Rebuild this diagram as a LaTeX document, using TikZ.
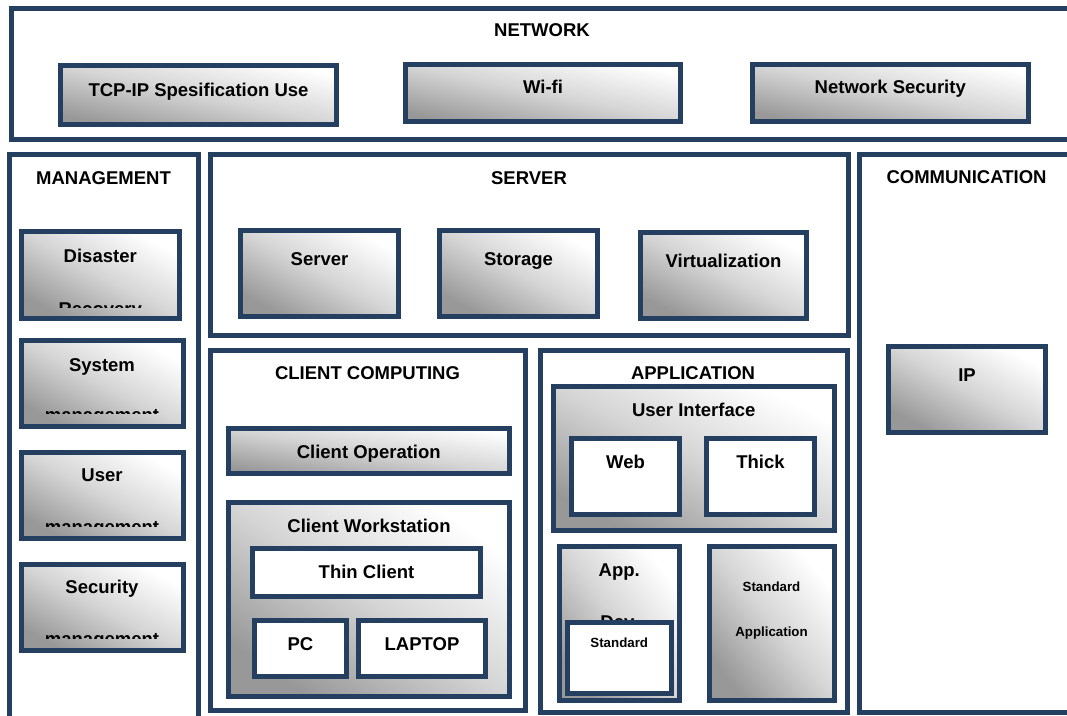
\documentclass[tikz,border=0pt]{standalone}
\usepackage{fontspec}
\setmainfont{Liberation Sans}
\definecolor{navy}{RGB}{37,63,96}
\definecolor{shadedark}{RGB}{152,152,152}
\definecolor{shademid}{RGB}{213,213,213}
\tikzset{
  frame/.style={draw=navy, line width=5pt, fill=white, inner sep=0pt, outer sep=0pt},
  % grey-to-white gradient running from the lower left corner to the upper right one
  tile/.style={frame, bottom color=shadedark, top color=white, middle color=shademid,
    shading angle=\tileangle},
  lbl/.style={anchor=base, inner sep=0pt, font=\fontsize{18.5}{20}\selectfont\bfseries},
  small/.style={anchor=base, inner sep=0pt, font=\fontsize{13.3}{15}\selectfont\bfseries},
}
% \panel[style]{name}{x1}{y1}{x2}{y2}: a box given by the centre line of its border
\newcommand\panel[6][frame]{%
  \pgfmathsetmacro\tileangle{-atan2((#6-#4),(#5-#3))}%
  \node[#1, minimum width={#5-#3}, minimum height={#6-#4}] (#2) at ({(#3+#5)/2},{(#4+#6)/2}) {};}
\begin{document}
\begin{tikzpicture}[x=1pt,y=-1pt]
\useasboundingbox (0,0) rectangle (1067,715);

% ---------- NETWORK ----------
\panel{network}{11.5}{8.5}{1078}{139.5}
\node[lbl] (networkT) at (542,36.6) {NETWORK};
\panel[tile]{tcp}{60.5}{65.5}{336.5}{124.5}
\node[lbl] (tcpT) at (tcp.center |- 0,96) {TCP-IP Spesification Use};
\panel[tile]{wifi}{405.5}{64.5}{680.5}{121.5}
\node[lbl] (wifiT) at (wifi.center |- 0,93.6) {Wi-fi};
\panel[tile]{netsec}{752.5}{64.5}{1028}{121.5}
\node[lbl] (netsecT) at (netsec.center |- 0,93.6) {Network Security};

% ---------- MANAGEMENT ----------
\panel{mgmt}{9.5}{154.5}{198.5}{730}
\node[lbl] (mgmtT) at (103.5,184.6) {MANAGEMENT};

\panel[tile]{disaster}{21.5}{231.5}{179}{318.5}
\node[lbl] (disasterA) at (disaster.center |- 0,262) {Disaster};
\begin{scope}
  \clip (21,230) rectangle (183,307);
  \node[lbl] (disasterB) at (disaster.center |- 0,315) {Recovery};
\end{scope}

\panel[tile]{system}{21}{340}{183}{426.5}
\node[lbl] (systemA) at (system.center |- 0,371) {System};
\begin{scope}
  \clip (21,338) rectangle (183,413);
  \node[lbl] (systemB) at (system.center |- 0,421) {management};
\end{scope}

\panel[tile]{user}{21}{452}{183}{538.5}
\node[lbl] (userA) at (user.center |- 0,481) {User};
\begin{scope}
  \clip (21,450) rectangle (183,526);
  \node[lbl] (userB) at (user.center |- 0,533) {management};
\end{scope}

\panel[tile]{security}{21}{564.5}{183}{650.5}
\node[lbl] (securityA) at (security.center |- 0,593) {Security};
\begin{scope}
  \clip (21,562) rectangle (183,638);
  \node[lbl] (securityB) at (security.center |- 0,645) {management};
\end{scope}

% ---------- SERVER ----------
\panel{server}{210}{154.5}{848.5}{335.5}
\node[lbl] (serverT) at (529,184.6) {SERVER};
\panel[tile]{srv}{240.5}{230}{398.5}{316}
\node[lbl] (srvT) at (srv.center |- 0,265.6) {Server};
\panel[tile]{storage}{439.5}{230}{597.5}{316}
\node[lbl] (storageT) at (storage.center |- 0,265.6) {Storage};
\panel[tile]{virt}{640.5}{232}{806.5}{318.5}
\node[lbl] (virtT) at (virt.center |- 0,267.6) {Virtualization};

% ---------- COMMUNICATION ----------
\panel{comm}{859.5}{154.5}{1078}{712}
\node[lbl] (commT) at (966.5,183.6) {COMMUNICATION};
\panel[tile]{ip}{888.5}{346}{1045.5}{432}
\node[lbl] (ipT) at (ip.center |- 0,381.6) {IP};

% ---------- CLIENT COMPUTING ----------
\panel{client}{210}{350}{525.5}{710.5}
\node[lbl] (clientT) at (367.5,379.6) {CLIENT COMPUTING};
\panel[tile]{clientop}{228.5}{428.5}{509}{473}
\node[lbl] (clientopT) at (clientop.center |- 0,458.6) {Client Operation};
\panel[tile]{ws}{228.5}{502.5}{509.5}{696.5}
\node[lbl] (wsT) at (ws.center |- 0,532) {Client Workstation};
\panel{thin}{252.5}{548.5}{480.5}{596.5}
\node[lbl] (thinT) at (thin.center |- 0,578.6) {Thin Client};
\panel{pc}{254.5}{620.5}{346.5}{676.5}
\node[lbl] (pcT) at (pc.center |- 0,650.6) {PC};
\panel{laptop}{358.5}{620.5}{485.5}{676.5}
\node[lbl] (laptopT) at (laptop.center |- 0,650.6) {LAPTOP};

% ---------- APPLICATION ----------
\panel{app}{540.5}{350.5}{847.5}{712}
\node[lbl] (appT) at (693,379.6) {APPLICATION};
\panel[tile]{ui}{553.5}{386}{834}{530.5}
\node[lbl] (uiT) at (ui.center |- 0,416.6) {User Interface};
\panel{web}{571.5}{438.5}{679.5}{514.5}
\node[lbl] (webT) at (web.center |- 0,468.6) {Web};
\panel{thick}{706.5}{438.5}{814.5}{514.5}
\node[lbl] (thickT) at (thick.center |- 0,468.6) {Thick};

\panel[tile]{appdev}{559.5}{546}{679}{700.5}
\node[lbl] (appdevA) at (appdev.center |- 0,576) {App.};
\node[lbl] (appdevB) at (appdev.center |- 0,628) {Dev.};
\panel{standard}{567}{622}{671.5}{693}
\node[small] (standardT) at (standard.center |- 0,647.8) {Standard};

\panel[tile]{stdapp}{709}{546}{834}{700.5}
\node[small] (stdappA) at (stdapp.center |- 0,591.8) {Standard};
\node[small] (stdappB) at (stdapp.center |- 0,636.8) {Application};
\end{tikzpicture}
\end{document}
